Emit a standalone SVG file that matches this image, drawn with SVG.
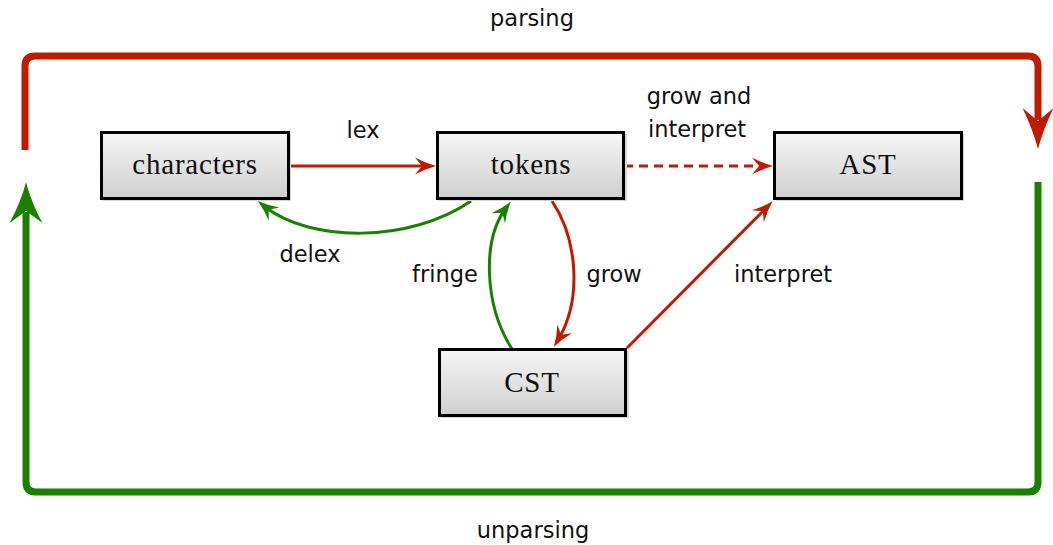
<svg xmlns="http://www.w3.org/2000/svg" width="1053" height="545" viewBox="0 0 1053 545">
  <defs>
    <linearGradient id="boxFill" x1="0" y1="0" x2="0" y2="1">
      <stop offset="0" stop-color="#f6f6f6"/>
      <stop offset="1" stop-color="#cfcfcf"/>
    </linearGradient>
    <!-- small filled arrowheads for the inner connectors (ref sits inside the head) -->
    <marker id="headRed" markerUnits="userSpaceOnUse" viewBox="-14 -10 24 20" refX="0" refY="0" markerWidth="24" markerHeight="20" orient="auto" overflow="visible">
      <path d="M8,0 Q-3,-3 -13,-8.5 L-6,0 L-13,8.5 Q-3,3 8,0 Z" fill="#c01a00"/>
    </marker>
    <marker id="headGreen" markerUnits="userSpaceOnUse" viewBox="-14 -10 24 20" refX="0" refY="0" markerWidth="24" markerHeight="20" orient="auto" overflow="visible">
      <path d="M8,0 Q-3,-3 -13,-8.5 L-6,0 L-13,8.5 Q-3,3 8,0 Z" fill="#1b8000"/>
    </marker>
    <!-- large arrowheads for the outer loop -->
    <marker id="bigRed" markerUnits="userSpaceOnUse" viewBox="-14 -18 46 36" refX="0" refY="0" markerWidth="46" markerHeight="36" orient="auto" overflow="visible">
      <path d="M29,0 Q10,-5 -12,-15.5 L1,0 L-12,15.5 Q10,5 29,0 Z" fill="#c01a00"/>
    </marker>
    <marker id="bigGreen" markerUnits="userSpaceOnUse" viewBox="-14 -18 46 36" refX="0" refY="0" markerWidth="46" markerHeight="36" orient="auto" overflow="visible">
      <path d="M30,0 Q10,-5 -11,-16.5 L1,0 L-11,16.5 Q10,5 30,0 Z" fill="#1b8000"/>
    </marker>
  </defs>
  <style>
    .box { fill: url(#boxFill); stroke: #000; stroke-width: 3; }
    .shadow { fill: #d6d6d6; }
    .node { font-family: "Liberation Serif", "Times New Roman", serif; font-size: 29px; letter-spacing: 0.8px; fill: #111; text-anchor: middle; }
    .lbl { font-family: "DejaVu Sans", "Liberation Sans", sans-serif; font-size: 22.5px; fill: #111; text-anchor: middle; }
    .red { fill: none; stroke: #c01a00; stroke-width: 3; }
    .green { fill: none; stroke: #1b8000; stroke-width: 3; }
    .loopRed { fill: none; stroke: #c01a00; stroke-width: 7; }
    .loopGreen { fill: none; stroke: #1b8000; stroke-width: 7; }
  </style>

  <rect width="1053" height="545" fill="#fff"/>

  <!-- connectors -->
  <g id="connectors">
    <!-- outer parsing loop -->
    <path class="loopRed" d="M25,150 V66 Q25,56 35,56 H1028 Q1038,56 1038,66 V120" marker-end="url(#bigRed)"/>
    <!-- outer unparsing loop -->
    <path class="loopGreen" d="M1038,182 V482 Q1038,492 1028,492 H36 Q26,492 26,482 V212" marker-end="url(#bigGreen)"/>
    <!-- lex -->
    <path class="red" d="M289,166 H428" marker-end="url(#headRed)"/>
    <!-- grow and interpret -->
    <path class="red" d="M624,166 H765" stroke-dasharray="9 6" marker-end="url(#headRed)"/>
    <!-- delex -->
    <path class="green" d="M471,201 C410,243 310,243 264,206" marker-end="url(#headGreen)"/>
    <!-- fringe -->
    <path class="green" d="M512,349 C484,305 482,240 506,208" marker-end="url(#headGreen)"/>
    <!-- grow -->
    <path class="red" d="M552,201 C578,240 582,300 558,340" marker-end="url(#headRed)"/>
    <!-- interpret -->
    <path class="red" d="M627,348 L767,207" marker-end="url(#headRed)"/>
  </g>

  <!-- connector labels -->
  <g id="labels">
    <text class="lbl" x="532" y="26">parsing</text>
    <text class="lbl" x="533" y="538">unparsing</text>
    <text class="lbl" x="363" y="138">lex</text>
    <text class="lbl" x="699" y="104">grow and</text>
    <text class="lbl" x="697" y="137">interpret</text>
    <text class="lbl" x="310" y="262">delex</text>
    <text class="lbl" x="445" y="282">fringe</text>
    <text class="lbl" x="614" y="282">grow</text>
    <text class="lbl" x="783" y="282">interpret</text>
  </g>

  <!-- nodes -->
  <g id="characters">
    <rect class="shadow" x="103" y="134" width="188" height="67"/>
    <rect class="box" x="101.5" y="132.5" width="187" height="66"/>
    <text class="node" x="195" y="174">characters</text>
  </g>
  <g id="tokens">
    <rect class="shadow" x="439" y="134" width="188" height="67"/>
    <rect class="box" x="437.5" y="132.5" width="186" height="66"/>
    <text class="node" x="531" y="174">tokens</text>
  </g>
  <g id="AST">
    <rect class="shadow" x="776" y="134" width="188" height="67"/>
    <rect class="box" x="774.5" y="132.5" width="187" height="66"/>
    <text class="node" x="868" y="174">AST</text>
  </g>
  <g id="CST">
    <rect class="shadow" x="441" y="351" width="188" height="67"/>
    <rect class="box" x="439.5" y="349.5" width="186" height="66"/>
    <text class="node" x="532" y="392">CST</text>
  </g>
</svg>
